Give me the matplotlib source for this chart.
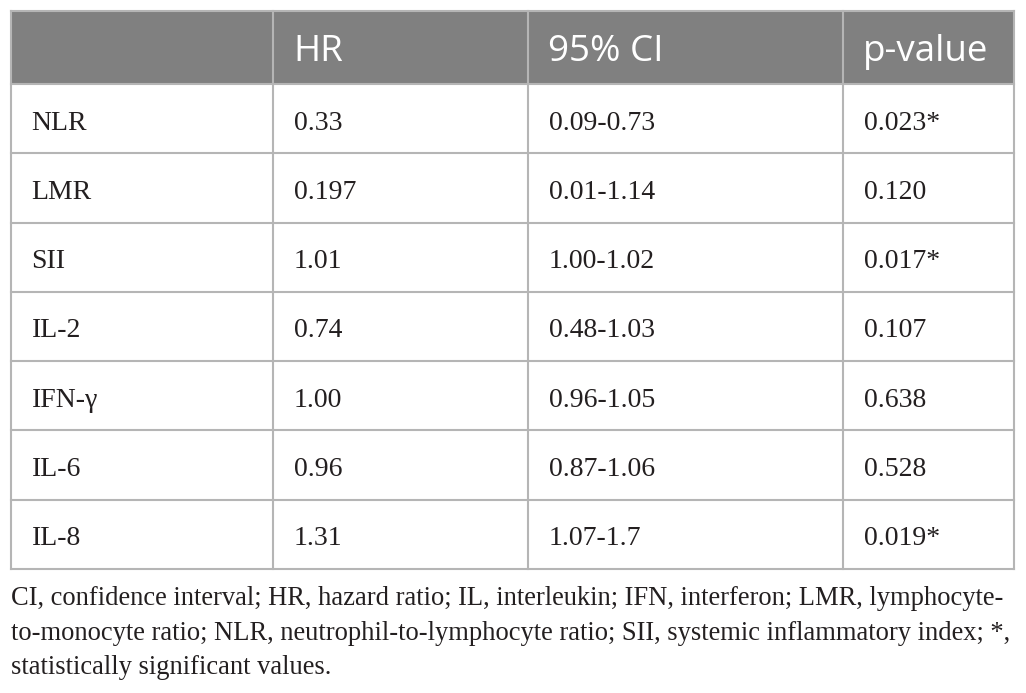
import matplotlib
matplotlib.use("Agg")
import matplotlib.pyplot as plt
from matplotlib.patches import Rectangle

# ---- data ----
columns = ["", "HR", "95% CI", "p-value"]
variables = ["NLR", "LMR", "SII", "IL-2", "IFN-\u03b3", "IL-6", "IL-8"]
hr = ["0.33", "0.197", "1.01", "0.74", "1.00", "0.96", "1.31"]
ci = ["0.09-0.73", "0.01-1.14", "1.00-1.02", "0.48-1.03", "0.96-1.05", "0.87-1.06", "1.07-1.7"]
pvals = ["0.023*", "0.120", "0.017*", "0.107", "0.638", "0.528", "0.019*"]
footnote = [
    "CI, confidence interval; HR, hazard ratio; IL, interleukin; IFN, interferon; LMR, lymphocyte-",
    "to-monocyte ratio; NLR, neutrophil-to-lymphocyte ratio; SII, systemic inflammatory index; *,",
    "statistically significant values.",
]

# ---- layout (pixels) ----
W, H = 1026, 693
col_edges = [10.5, 273, 528, 843, 1014]
top, header_bottom, bottom = 11, 84, 569
n = len(variables)
row_h = (bottom - header_bottom) / n

fig = plt.figure(figsize=(W / 100, H / 100), dpi=100)
ax = fig.add_axes([0, 0, 1, 1])
ax.set_xlim(0, W)
ax.set_ylim(H, 0)
ax.axis("off")

header_color = "#808080"
line_color = "#b5b5b5"
text_color = "#231f20"

ax.add_patch(Rectangle((col_edges[0], top), col_edges[-1] - col_edges[0],
                       header_bottom - top, facecolor=header_color,
                       edgecolor="none"))

# grid lines
lw = 1.5
ax.plot([col_edges[0], col_edges[-1]], [top, top], color=line_color, lw=lw)
for i in range(n + 1):
    y = header_bottom + i * row_h
    ax.plot([col_edges[0], col_edges[-1]], [y, y], color=line_color, lw=lw)
for x in col_edges:
    ax.plot([x, x], [top, bottom], color=line_color, lw=lw)

# header text
for j, name in enumerate(columns):
    if name:
        ax.text(col_edges[j] + 20, 61, name, color="white", fontsize=26.5,
                family="Open Sans", va="baseline", ha="left")

# body text
body_cols = [variables, hr, ci, pvals]
for i in range(n):
    base = header_bottom + i * row_h + 45.5
    for j, colvals in enumerate(body_cols):
        ax.text(col_edges[j] + 21, base, colvals[i], color=text_color,
                fontsize=20, family=["Liberation Serif", "DejaVu Serif"],
                va="baseline", ha="left")

# footnote
foot_base = [605, 640, 674]
for line, yb in zip(footnote, foot_base):
    ax.text(11, yb, line, color=text_color, fontsize=19.1,
            family=["Liberation Serif", "DejaVu Serif"], va="baseline", ha="left")

fig.savefig("out.png", dpi=100, facecolor="white")
